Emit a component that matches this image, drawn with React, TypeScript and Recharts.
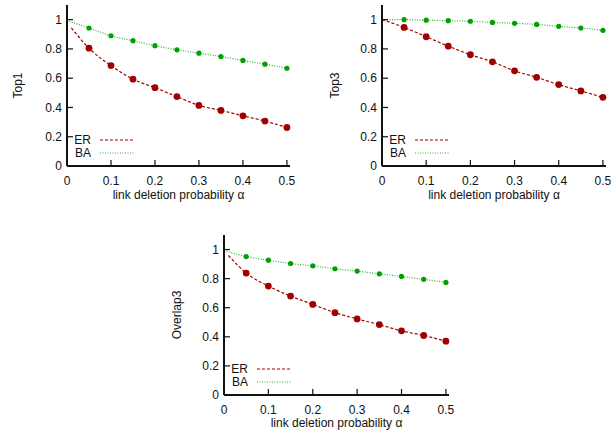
import { Line, LineChart, XAxis, YAxis } from 'recharts';

// link deletion probability where the markers sit
const alphas = [0.05, 0.1, 0.15, 0.2, 0.25, 0.3, 0.35, 0.4, 0.45, 0.5];
const xTicks = [0, 0.1, 0.2, 0.3, 0.4, 0.5];
const yTicks = [0, 0.2, 0.4, 0.6, 0.8, 1];

const top1ER = [0.805, 0.686, 0.593, 0.535, 0.474, 0.414, 0.38, 0.343, 0.307, 0.263];
const top1BA = [0.943, 0.89, 0.856, 0.822, 0.794, 0.771, 0.748, 0.721, 0.696, 0.668];
const top3ER = [0.947, 0.883, 0.819, 0.76, 0.712, 0.65, 0.606, 0.556, 0.513, 0.469];
const top3BA = [1.0, 0.996, 0.993, 0.989, 0.981, 0.975, 0.967, 0.954, 0.943, 0.927];
const overlap3ER = [0.838, 0.749, 0.68, 0.623, 0.566, 0.523, 0.484, 0.441, 0.409, 0.37];
const overlap3BA = [0.952, 0.927, 0.904, 0.888, 0.868, 0.852, 0.833, 0.815, 0.795, 0.774];

// first point of each fitted curve: [alpha, value]
const top1Start = { er: [0.01, 0.943], ba: [0, 0.993] };
const top3Start = { er: [0, 1.0], ba: [0, 1.0] };
const overlap3Start = { er: [0.01, 0.959], ba: [0, 0.993] };

const ER_COLOR = '#a00000';
const BA_COLOR = '#00a000';
const FONT = '"Liberation Sans", Arial, sans-serif';

const toPoints = (ys: number[]) => alphas.map((a, i) => ({ a, v: ys[i] }));
const toFit = (start: number[], ys: number[]) => [{ a: start[0], v: start[1] }, ...toPoints(ys)];

const axisLine = { stroke: '#111', strokeWidth: 2 };
const tickLine = { stroke: '#111', strokeWidth: 1.2 };
const tickText = { fill: '#111', fontSize: 12, fontFamily: FONT };

interface PanelProps {
   ylabel: string;
   er: number[];
   ba: number[];
   start: { er: number[]; ba: number[] };
   left: number;
   top: number;
   width: number;
   height: number;
   marginRight: number;
   xAxisHeight: number;
   xLabelOffset: number;
   ylabelX: number;
}

function Panel(p: PanelProps) {
   const plotLeft = 67;
   const plotBottom = p.height - p.xAxisHeight;

   const yLabel = (props: any) => {
      const vb = props.viewBox;
      const cy = vb.y + vb.height / 2;
      return (
         <text
            x={p.ylabelX}
            y={cy}
            transform={`rotate(-90 ${p.ylabelX} ${cy})`}
            textAnchor="middle"
            dominantBaseline="central"
            fill="#111"
            fontSize={12}
            fontFamily={FONT}
         >
            {p.ylabel}
         </text>
      );
   };

   return (
      <div style={{ position: 'absolute', left: p.left, top: p.top, width: p.width, height: p.height }}>
         <LineChart
            width={p.width}
            height={p.height}
            margin={{ top: 5, right: p.marginRight, bottom: 0, left: 0 }}
         >
            <XAxis
               xAxisId="b"
               type="number"
               dataKey="a"
               domain={[0, 0.507]}
               ticks={xTicks}
               height={p.xAxisHeight}
               tickSize={-6}
               tickMargin={16}
               axisLine={axisLine}
               tickLine={tickLine}
               tick={tickText}
               label={{
                  value: 'link deletion probability α',
                  position: 'insideBottom',
                  offset: p.xLabelOffset,
                  fill: '#111',
                  fontSize: 12,
                  fontFamily: FONT,
               }}
            />
            <XAxis
               xAxisId="t"
               orientation="top"
               type="number"
               dataKey="a"
               domain={[0, 0.507]}
               ticks={xTicks}
               height={0}
               tickSize={-6}
               tick={false}
               axisLine={axisLine}
               tickLine={tickLine}
            />
            <YAxis
               yAxisId="l"
               type="number"
               domain={[0, 1.1]}
               ticks={yTicks}
               width={plotLeft}
               tickSize={-6}
               tickMargin={11}
               axisLine={axisLine}
               tickLine={tickLine}
               tick={tickText}
               label={yLabel}
            />
            <YAxis
               yAxisId="r"
               orientation="right"
               type="number"
               domain={[0, 1.1]}
               ticks={yTicks}
               width={0}
               tickSize={-6}
               tick={false}
               axisLine={axisLine}
               tickLine={tickLine}
            />

            <Line
               xAxisId="b"
               yAxisId="l"
               data={toFit(p.start.ba, p.ba)}
               dataKey="v"
               type="monotone"
               stroke="#2db52d"
               strokeWidth={1.2}
               strokeDasharray="1 1.5"
               dot={false}
               activeDot={false}
               isAnimationActive={false}
            />
            <Line
               xAxisId="b"
               yAxisId="l"
               data={toFit(p.start.er, p.er)}
               dataKey="v"
               type="monotone"
               stroke={ER_COLOR}
               strokeWidth={1.2}
               strokeDasharray="3 2"
               dot={false}
               activeDot={false}
               isAnimationActive={false}
            />
            <Line
               xAxisId="b"
               yAxisId="l"
               data={toPoints(p.ba)}
               dataKey="v"
               stroke="none"
               dot={{ r: 2.6, fill: BA_COLOR, stroke: 'none' }}
               activeDot={false}
               isAnimationActive={false}
            />
            <Line
               xAxisId="b"
               yAxisId="l"
               data={toPoints(p.er)}
               dataKey="v"
               stroke="none"
               dot={{ r: 3.4, fill: ER_COLOR, stroke: 'none' }}
               activeDot={false}
               isAnimationActive={false}
            />
         </LineChart>

         {/* key, inside the lower left corner of the plot */}
         <svg
            width={p.width}
            height={p.height}
            style={{ position: 'absolute', left: 0, top: 0, pointerEvents: 'none' }}
         >
            <g fontFamily={FONT} fontSize={12} fill="#111">
               <text x={plotLeft + 24} y={plotBottom - 26.5} textAnchor="end" dominantBaseline="central">
                  ER
               </text>
               <line
                  x1={plotLeft + 33}
                  x2={plotLeft + 67}
                  y1={plotBottom - 26}
                  y2={plotBottom - 26}
                  stroke={ER_COLOR}
                  strokeWidth={1.2}
                  strokeDasharray="3 2"
               />
               <text x={plotLeft + 24} y={plotBottom - 13.5} textAnchor="end" dominantBaseline="central">
                  BA
               </text>
               <line
                  x1={plotLeft + 33}
                  x2={plotLeft + 67}
                  y1={plotBottom - 13}
                  y2={plotBottom - 13}
                  stroke="#2db52d"
                  strokeWidth={1.2}
                  strokeDasharray="1 1.5"
               />
            </g>
         </svg>
      </div>
   );
}

export default function App() {
   return (
      <div
         style={{
            position: 'absolute',
            left: 0,
            top: 0,
            width: 611,
            height: 439,
            background: '#fff',
            overflow: 'hidden',
            fontFamily: FONT,
         }}
      >
         <Panel
            ylabel="Top1"
            er={top1ER}
            ba={top1BA}
            start={top1Start}
            left={0}
            top={0}
            width={300}
            height={215}
            marginRight={10}
            xAxisHeight={49}
            xLabelOffset={16}
            ylabelX={18}
         />
         <Panel
            ylabel="Top3"
            er={top3ER}
            ba={top3BA}
            start={top3Start}
            left={315}
            top={0}
            width={296}
            height={215}
            marginRight={5}
            xAxisHeight={49}
            xLabelOffset={16}
            ylabelX={20}
         />
         <Panel
            ylabel="Overlap3"
            er={overlap3ER}
            ba={overlap3BA}
            start={overlap3Start}
            left={157}
            top={230}
            width={300}
            height={209}
            marginRight={8}
            xAxisHeight={44}
            xLabelOffset={12}
            ylabelX={20}
         />
      </div>
   );
}
